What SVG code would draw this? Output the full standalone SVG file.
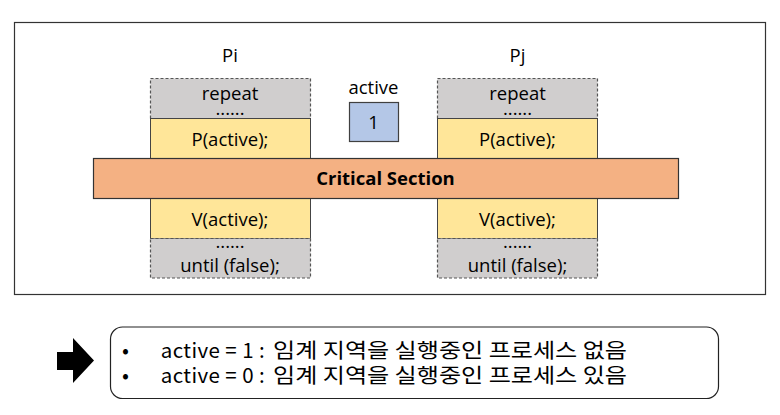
<svg xmlns="http://www.w3.org/2000/svg" width="780" height="415" viewBox="0 0 780 415">
<style>
.t{font-family:"Open Sans","Noto Sans",sans-serif;font-size:18.5px;fill:#000;text-anchor:middle}
.grey{fill:#d0cece;stroke:#555;stroke-width:1.2;stroke-dasharray:3,2}
.yel{fill:#ffe699;stroke:#444;stroke-width:1}
.kr{font-family:"Noto Sans CJK KR","Noto Sans",sans-serif;font-size:20.5px;fill:#000}
</style>
<rect x="0" y="0" width="780" height="415" fill="#fff"/>
<g id="frame"><rect x="14.5" y="22.5" width="751" height="272" fill="#fff" stroke="#333" stroke-width="1.2"/></g>
<g id="Pi">
<text class="t" x="230" y="61.5">Pi</text>
<rect class="grey" x="150.5" y="78.5" width="160" height="40"/>
<text class="t"><tspan x="230" y="99.5">repeat</tspan><tspan x="230" y="115">......</tspan></text>
<rect class="yel" x="150.5" y="118.5" width="160" height="40"/>
<text class="t" x="230" y="146.3">P(active);</text>
<rect class="yel" x="150.5" y="198.5" width="160" height="40"/>
<text class="t" x="230" y="226.3">V(active);</text>
<rect class="grey" x="150.5" y="238.5" width="160" height="39.5"/>
<text class="t"><tspan x="230" y="248">......</tspan><tspan x="230" y="272">until (false);</tspan></text>
</g>
<g id="Pj">
<text class="t" x="517.5" y="61.5">Pj</text>
<rect class="grey" x="437.5" y="78.5" width="160" height="40"/>
<text class="t"><tspan x="517.5" y="99.5">repeat</tspan><tspan x="517.5" y="115">......</tspan></text>
<rect class="yel" x="437.5" y="118.5" width="160" height="40"/>
<text class="t" x="517.5" y="146.3">P(active);</text>
<rect class="yel" x="437.5" y="198.5" width="160" height="40"/>
<text class="t" x="517.5" y="226.3">V(active);</text>
<rect class="grey" x="437.5" y="238.5" width="160" height="39.5"/>
<text class="t"><tspan x="517.5" y="248">......</tspan><tspan x="517.5" y="272">until (false);</tspan></text>
</g>
<g id="active">
<text class="t" x="373.5" y="94">active</text>
<rect x="349.5" y="102.5" width="49" height="39" fill="#b4c7e7" stroke="#404040" stroke-width="1.2"/>
<text class="t" x="373.5" y="129">1</text>
</g>
<g id="critical">
<rect x="93.5" y="158.5" width="585" height="40" fill="#f4b183" stroke="#333" stroke-width="1.2"/>
<text class="t" x="385.5" y="185" font-weight="bold" font-size="18px">Critical Section</text>
</g>
<g id="connectors">
<polygon points="57,352 73,352 73,338 94,360.5 73,383 73,370 57,370" fill="#000"/>
</g>
<g id="note">
<rect x="110.5" y="327" width="608" height="71.5" rx="12" ry="12" fill="#fff" stroke="#222" stroke-width="1.2"/>
<text class="kr"><tspan x="122" y="358">•</tspan><tspan x="160.7" y="358" textLength="104" lengthAdjust="spacing">active = 1 :</tspan><tspan x="273" y="358" textLength="354" lengthAdjust="spacingAndGlyphs">임계 지역을 실행중인 프로세스 없음</tspan><tspan x="122" y="383">•</tspan><tspan x="160.7" y="383" textLength="104" lengthAdjust="spacing">active = 0 :</tspan><tspan x="273" y="383" textLength="354" lengthAdjust="spacingAndGlyphs">임계 지역을 실행중인 프로세스 있음</tspan></text>
</g>
</svg>
